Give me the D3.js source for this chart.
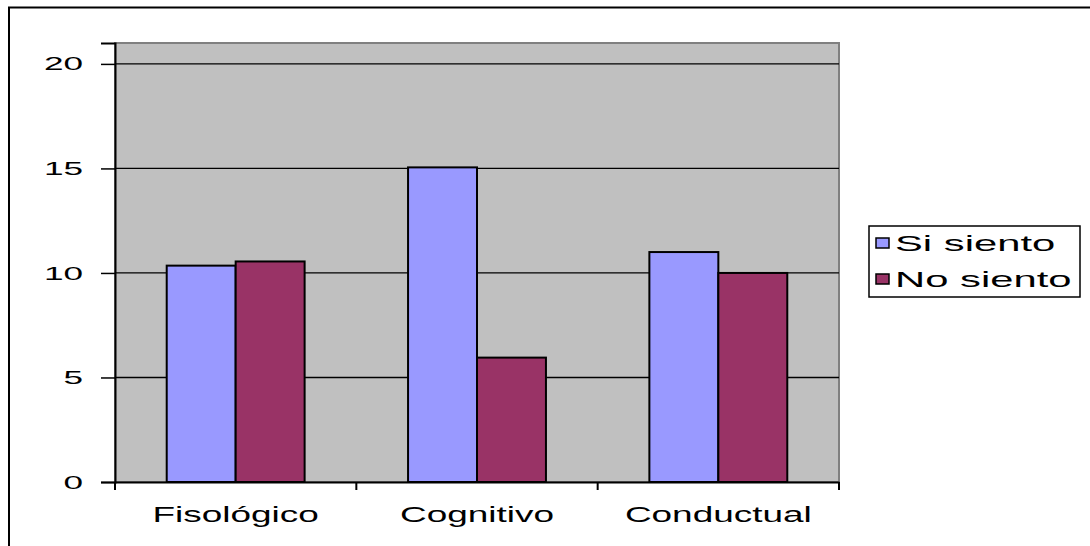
<!DOCTYPE html>
<html>
<head>
<meta charset="utf-8">
<script src="https://cdn.jsdelivr.net/npm/d3@7"></script>
<style>
  body { margin: 0; background: #fff; }
  text { font-family: "Liberation Sans", Arial, sans-serif; fill: #000; }
</style>
</head>
<body>
<div id="chart"></div>
<script>
// Data
const categories = ['Fisológico', 'Cognitivo', 'Conductual']
const seriesNames = ['Si siento', 'No siento']
const siSiento = [10.35, 15.05, 11.0]
const noSiento = [10.55, 5.95, 10.0]
const yTicks = [0, 5, 10, 15, 20]
const colors = ['#9999ff', '#993366']

const dimensions = {
  width: 1090,
  height: 546,
  plot: { left: 115, top: 43, right: 839, bottom: 482 }
}

// the original text is drawn wide, so stretch it sideways
function stretch(sel, s) {
  sel.each(function () {
    const t = d3.select(this)
    const x = +t.attr('x') || 0
    t.attr('x', 0).attr('transform', `translate(${x},0) scale(${s},1)`)
  })
}

const svg = d3.select('#chart')
  .append('svg')
  .attr('width', dimensions.width)
  .attr('height', dimensions.height)

// outer frame (runs off the picture right and bottom)
svg.append('rect')
  .attr('x', 9).attr('y', 7.5)
  .attr('width', 1200).attr('height', 700)
  .attr('fill', '#fff')
  .attr('stroke', '#000')
  .attr('stroke-width', 2)

const p = dimensions.plot

// Scales
const xScale = d3.scaleBand()
  .domain(categories)
  .range([p.left, p.right])

const yScale = d3.scaleLinear()
  .domain([0, 21])
  .range([p.bottom, p.top])

const xInner = d3.scaleBand()
  .domain(seriesNames)
  .range([0, xScale.bandwidth()])
  .paddingOuter(0.75)
  .paddingInner(0)

// plot background
svg.append('rect')
  .attr('x', p.left).attr('y', p.top)
  .attr('width', p.right - p.left)
  .attr('height', p.bottom - p.top)
  .attr('fill', '#c0c0c0')
  .attr('stroke', '#808080')
  .attr('stroke-width', 2)

// gridlines
svg.append('g')
  .selectAll('line')
  .data(yTicks.filter(d => d > 0))
  .join('line')
  .attr('x1', p.left).attr('x2', p.right)
  .attr('y1', d => yScale(d)).attr('y2', d => yScale(d))
  .attr('stroke', '#000')
  .attr('stroke-width', 1.3)

// bars
const rows = categories.map((c, i) => ({ cat: c, values: [siSiento[i], noSiento[i]] }))

svg.append('g')
  .selectAll('g')
  .data(rows)
  .join('g')
  .attr('transform', d => `translate(${xScale(d.cat)},0)`)
  .selectAll('rect')
  .data(d => d.values.map((v, j) => ({ name: seriesNames[j], value: v, j })))
  .join('rect')
  .attr('x', d => xInner(d.name))
  .attr('width', xInner.bandwidth())
  .attr('y', d => yScale(d.value))
  .attr('height', d => yScale(0) - yScale(d.value))
  .attr('fill', d => colors[d.j])
  .attr('stroke', '#000')
  .attr('stroke-width', 2)

// y axis
const yAxis = d3.axisLeft(yScale)
  .tickValues(yTicks)
  .tickSize(14)
  .tickPadding(18)

const yAxisGroup = svg.append('g')
  .attr('transform', `translate(${p.left},0)`)
  .call(yAxis)
yAxisGroup.select('.domain').attr('stroke', '#000').attr('stroke-width', 2)
yAxisGroup.selectAll('.tick line').attr('stroke', '#000').attr('stroke-width', 1.5)
yAxisGroup.selectAll('text')
  .style('font-family', '"Liberation Sans", Arial, sans-serif')
  .style('font-size', '19px')
  .attr('fill', '#000')
  .call(stretch, 1.85)

// x axis
const xAxisGroup = svg.append('g')
  .attr('transform', `translate(0,${p.bottom})`)
  .call(d3.axisBottom(xScale).tickSize(0).tickPadding(24))
xAxisGroup.select('.domain').attr('stroke', '#000').attr('stroke-width', 2)
xAxisGroup.selectAll('text')
  .style('font-family', '"Liberation Sans", Arial, sans-serif')
  .style('font-size', '22px')
  .attr('fill', '#000')
  .call(stretch, 1.68)

// category separators on x axis
const sepX = categories.map(c => xScale(c)).concat([p.right])
xAxisGroup.selectAll('.sep')
  .data(sepX)
  .join('line')
  .attr('class', 'sep')
  .attr('x1', d => d).attr('x2', d => d)
  .attr('y1', 0).attr('y2', 8)
  .attr('stroke', '#000')
  .attr('stroke-width', 2)

// legend
const legend = svg.append('g').attr('transform', 'translate(869,226)')
legend.append('rect')
  .attr('width', 211).attr('height', 71)
  .attr('fill', '#fff')
  .attr('stroke', '#000')
  .attr('stroke-width', 1.5)

const items = legend.selectAll('g.item')
  .data(seriesNames)
  .join('g')
  .attr('class', 'item')
  .attr('transform', (d, i) => `translate(7,${17 + i * 36})`)

items.append('rect')
  .attr('y', -5)
  .attr('width', 13).attr('height', 10)
  .attr('fill', (d, i) => colors[i])
  .attr('stroke', '#000')
  .attr('stroke-width', 1.5)

items.append('text')
  .attr('x', 19)
  .attr('dy', '0.36em')
  .style('font-size', '22px')
  .text(d => d)
  .call(stretch, 1.9)
</script>
</body>
</html>
